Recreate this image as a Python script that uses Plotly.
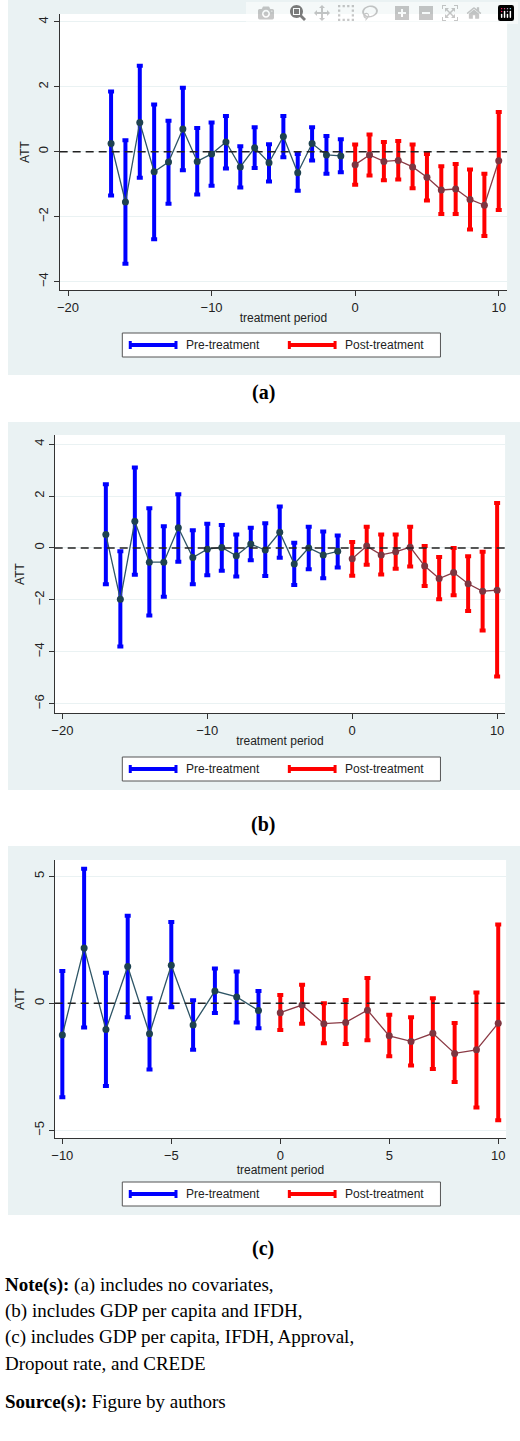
import plotly.graph_objects as go

# ---- data panel (a)
xa = list(range(-17, 11))
ya = [0.25,-1.55,0.9,-0.62,-0.32,0.7,-0.3,-0.07,0.3,-0.47,0.12,-0.34,0.47,-0.65,0.25,-0.1,-0.13,
      -0.4,-0.1,-0.3,-0.27,-0.47,-0.79,-1.18,-1.15,-1.47,-1.65,-0.28]
ha = [1.85,0.35,2.65,1.45,0.95,1.97,0.73,0.9,1.1,0.17,0.75,0.23,1.1,-0.07,0.75,0.48,0.38,
      0.22,0.53,0.3,0.33,0.22,-0.07,-0.45,-0.38,-0.55,-0.68,1.22]
la = [-1.35,-3.45,-0.8,-2.7,-1.6,-0.57,-1.32,-1.05,-0.52,-1.1,-0.5,-0.92,-0.17,-1.2,-0.27,-0.68,-0.63,
      -1.02,-0.73,-0.88,-0.86,-1.13,-1.5,-1.92,-1.92,-2.4,-2.6,-1.8]
# ---- data panel (b)
xb = list(range(-17, 11))
yb = [0.52,-1.98,1.03,-0.55,-0.55,0.78,-0.37,-0.05,0.02,-0.3,0.15,-0.08,0.6,-0.62,0.0,-0.27,-0.13,
      -0.42,0.07,-0.27,-0.15,0.03,-0.7,-1.18,-0.95,-1.38,-1.67,-1.63]
hb = [2.45,-0.13,3.1,1.53,0.83,2.07,0.68,0.93,0.88,0.52,0.78,0.95,1.6,0.2,0.82,0.63,0.48,
      0.23,0.82,0.52,0.52,0.82,0.07,-0.35,0.0,-0.32,-0.15,1.73]
lb = [-1.4,-3.8,-1.03,-2.6,-1.88,-0.53,-1.4,-1.05,-0.88,-1.1,-0.48,-1.08,-0.38,-1.43,-0.82,-1.17,-0.75,
      -1.07,-0.65,-1.02,-0.8,-0.72,-1.47,-1.98,-1.82,-2.43,-3.18,-4.95]
# ---- data panel (c)
xc = list(range(-10, 11))
yc = [-1.25,2.18,-1.03,1.45,-1.2,1.5,-0.85,0.48,0.25,-0.28,
      -0.37,-0.07,-0.8,-0.75,-0.27,-1.28,-1.5,-1.18,-1.97,-1.83,-0.78]
hc = [1.27,5.3,1.2,3.45,0.2,3.2,0.12,1.37,1.25,0.48,
      0.33,0.73,0.0,0.13,1.0,-0.45,-0.55,0.2,-0.77,0.43,3.1]
lc = [-3.7,-0.95,-3.25,-0.55,-2.6,-0.15,-1.83,-0.38,-0.75,-0.98,
      -1.05,-0.8,-1.57,-1.6,-1.45,-2.08,-2.45,-2.58,-3.1,-4.1,-4.6]

labels = ["(a)", "(b)", "(c)"]
legend_names = ["Pre-treatment", "Post-treatment"]
notes = ["<b>Note(s):</b> (a) includes no covariates,",
         "(b) includes GDP per capita and IFDH,",
         "(c) includes GDP per capita, IFDH, Approval,",
         "Dropout rate, and CREDE",
         "<b>Source(s):</b> Figure by authors"]

W, H = 520, 1441
BLUE, RED = "#0000ff", "#ff0000"
PRE_LINE, POST_LINE = "#2e5566", "#8b3a45"
PRE_DOT, POST_DOT = "#1e4250", "#7d3540"
BG = "#eaf2f3"

panels = [
    dict(x=xa, y=ya, h=ha, l=la, xdom=[57/W, 507/W], ytop=14, ybot=290,
         xr=[-20.58, 10.58], yr=[-4.26, 4.24], xt=[-20, -10, 0, 10], yt=[-4, -2, 0, 2, 4],
         bg=[0, 375], leg=345, lab=393, xl=(120, 440)),
    dict(x=xb, y=yb, h=hb, l=lb, xdom=[52/W, 505/W], ytop=435, ybot=713,
         xr=[-20.53, 10.55], yr=[-6.36, 4.35], xt=[-20, -10, 0, 10], yt=[-6, -4, -2, 0, 2, 4],
         bg=[422, 790], leg=769, lab=825, xl=(120, 440)),
    dict(x=xc, y=yc, h=hc, l=lc, xdom=[52/W, 506/W], ytop=860, ybot=1138,
         xr=[-10.35, 10.36], yr=[-5.3, 5.64], xt=[-10, -5, 0, 5, 10], yt=[-5, 0, 5],
         bg=[846, 1215], leg=1194, lab=1248, xl=(120, 440)),
]

def py(px):
    return 1 - px / H

fig = go.Figure()
shapes, annots = [], []
for i, p in enumerate(panels):
    k = "" if i == 0 else str(i + 1)
    xa_name, ya_name = "x" + k, "y" + k
    pre = [j for j, v in enumerate(p["x"]) if v < 0]
    post = [j for j, v in enumerate(p["x"]) if v >= 0]
    for idx, col, lc_, dc in [(pre, BLUE, PRE_LINE, PRE_DOT), (post, RED, POST_LINE, POST_DOT)]:
        xs = [p["x"][j] for j in idx]
        ys = [p["y"][j] for j in idx]
        up = [p["h"][j] - p["y"][j] for j in idx]
        dn = [p["y"][j] - p["l"][j] for j in idx]
        fig.add_trace(go.Scatter(x=xs, y=ys, mode="markers", xaxis=xa_name, yaxis=ya_name,
                                 marker=dict(size=1, color="rgba(0,0,0,0)"), showlegend=False,
                                 error_y=dict(type="data", symmetric=False, array=up, arrayminus=dn,
                                              color=col, thickness=4, width=3)))
        fig.add_trace(go.Scatter(x=xs, y=ys, mode="lines+markers", xaxis=xa_name, yaxis=ya_name,
                                 line=dict(color=lc_, width=1.3), marker=dict(size=7, color=dc),
                                 showlegend=False))
    ydom = [py(p["ybot"]), py(p["ytop"])]
    fig.layout["xaxis" + k] = dict(domain=p["xdom"], range=p["xr"], tickvals=p["xt"],
                                   ticktext=[str(v).replace("-", "\u2212") for v in p["xt"]],
                                   anchor=ya_name, showgrid=False, zeroline=False, showline=True,
                                   linecolor="#333", ticks="outside", ticklen=5, tickcolor="#333",
                                   tickfont=dict(family="Liberation Sans", size=13, color="#222"),
                                   title=dict(text="treatment period", standoff=0,
                                              font=dict(family="Liberation Sans", size=12, color="#222")))
    fig.layout["yaxis" + k] = dict(domain=ydom, range=p["yr"], tickvals=p["yt"],
                                   ticktext=[str(v).replace("-", "\u2212") for v in p["yt"]],
                                   anchor=xa_name, showgrid=True, gridcolor=BG, zeroline=False,
                                   showline=True, linecolor="#333", ticks="outside", ticklen=5,
                                   tickcolor="#333", tickangle=-90,
                                   tickfont=dict(family="Liberation Sans", size=13, color="#222"),
                                   title=dict(text="ATT", standoff=4,
                                              font=dict(family="Liberation Sans", size=12, color="#222")))
    shapes.append(dict(type="rect", xref="paper", yref="paper", x0=5/W, x1=1, y0=py(p["bg"][1]),
                       y1=py(p["bg"][0]), fillcolor=BG, line=dict(width=0), layer="below"))
    shapes.append(dict(type="rect", xref="paper", yref="paper", x0=p["xdom"][0], x1=p["xdom"][1],
                       y0=ydom[0], y1=ydom[1], fillcolor="white", line=dict(width=0), layer="below"))
    shapes.append(dict(type="line", xref=xa_name + " domain", yref=ya_name, x0=0, x1=1, y0=0, y1=0,
                       line=dict(color="#222", width=1.5, dash="8px,5px")))
    lx0, lx1 = p["xl"]
    ly = p["leg"]
    shapes.append(dict(type="rect", xref="paper", yref="paper", x0=lx0/W, x1=lx1/W,
                       y0=py(ly + 12), y1=py(ly - 12), fillcolor="white",
                       line=dict(color="#555", width=1)))
    for sx, col, name in [(128, BLUE, legend_names[0]), (288, RED, legend_names[1])]:
        shapes.append(dict(type="line", xref="paper", yref="paper", x0=sx/W, x1=(sx+46)/W,
                           y0=py(ly), y1=py(ly), line=dict(color=col, width=4)))
        for cx in (sx, sx + 46):
            shapes.append(dict(type="line", xref="paper", yref="paper", x0=cx/W, x1=cx/W,
                               y0=py(ly + 4), y1=py(ly - 4), line=dict(color=col, width=3)))
        annots.append(dict(xref="paper", yref="paper", x=(sx + 54)/W, y=py(ly), text=name,
                           showarrow=False, xanchor="left", yanchor="middle",
                           font=dict(family="Liberation Sans", size=12, color="#222")))
    annots.append(dict(xref="paper", yref="paper", x=262/W, y=py(p["lab"]), text="<b>" + labels[i] + "</b>",
                       showarrow=False, xanchor="center", yanchor="middle",
                       font=dict(family="Liberation Serif", size=20, color="black")))

for j, (t, yy) in enumerate(zip(notes, [1285, 1311, 1337, 1363, 1402])):
    annots.append(dict(xref="paper", yref="paper", x=0, y=py(yy), text=t, showarrow=False,
                       xanchor="left", yanchor="middle",
                       font=dict(family="Liberation Serif", size=19, color="black")))

fig.update_layout(width=W, height=H, margin=dict(l=0, r=0, t=0, b=0),
                  paper_bgcolor="white", plot_bgcolor="rgba(0,0,0,0)",
                  shapes=shapes, annotations=annots, showlegend=False)
fig.write_html("out.html",
               post_script="document.body.style.margin='0';document.body.style.overflow='hidden';")
